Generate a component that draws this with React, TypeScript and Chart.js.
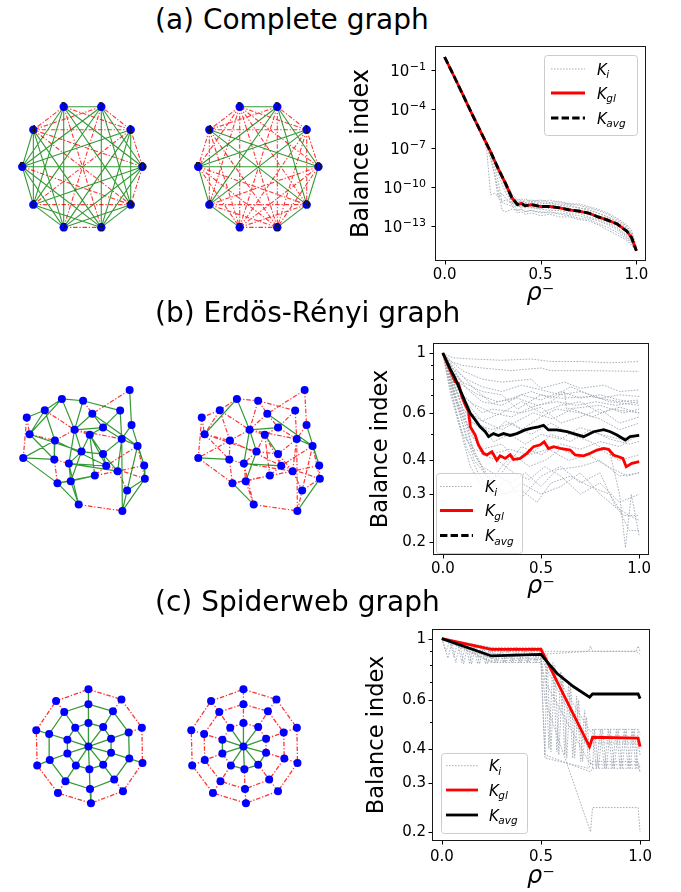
import React, { useEffect, useRef } from "react";
import { Chart, registerables } from "chart.js";
Chart.register(...registerables);

const FONT = "'DejaVu Sans', 'Liberation Sans', sans-serif";
Chart.defaults.font.family = FONT;

// ---------------- titles ----------------
const TITLES = ["(a) Complete graph", "(b) Erdös-Rényi graph", "(c) Spiderweb graph"];

// ---------------- network data ----------------
const COMPLETE_NODES = [
  [145.7, 166.7], [133.3, 127.7], [102.3, 103.3], [62.7, 103.3], [30.7, 127.7],
  [19, 166.7], [30.7, 206.7], [62.7, 230.7], [102.3, 230.7], [133.3, 206.7],
];
const COMPLETE_LABELS = ["0", "1", "2", "3", "4", "5", "6", "7", "8", "9"];
const COMPLETE_SIGNS_LEFT = "rggrggggr" + "rrrgrggg" + "grggrgg" + "rgggrg" + "ggggr" + "gggr" + "ggr" + "rg" + "g";
const COMPLETE_SIGNS_RIGHT = "rgrggrrrg" + "rrrggrrr" + "grggrrg" + "rrrrrr" + "rrrrg" + "grrr" + "grr" + "rr" + "g";

const ER_NODES = [
  [360, 20], [146, 48], [213, 54], [92, 84], [330, 85], [242, 95], [35, 107], [366, 131], [276, 139], [186, 146],
  [44, 160], [234, 162], [124, 180], [335, 175], [385, 197], [208, 215], [276, 223], [24, 235], [122, 240], [168, 253],
  [286, 260], [406, 259], [322, 277], [250, 291], [408, 301], [174, 309], [132, 315], [352, 338], [199, 383], [337, 403],
];
const ER_EDGES = [
  [0, 7], [0, 5], [1, 2], [1, 3], [1, 9], [1, 10], [2, 4], [2, 9], [2, 5], [3, 6],
  [3, 9], [3, 10], [3, 12], [4, 13], [4, 8], [5, 9], [5, 14], [5, 8], [6, 10], [6, 17],
  [7, 13], [7, 21], [8, 9], [8, 11], [8, 13], [9, 12], [9, 11], [9, 15], [9, 19], [9, 13],
  [10, 12], [10, 18], [10, 15], [11, 16], [11, 15], [11, 20], [11, 23], [12, 18], [12, 17], [12, 20],
  [13, 16], [13, 14], [13, 29], [13, 22], [14, 21], [14, 24], [14, 20], [15, 19], [15, 16], [15, 25],
  [16, 22], [16, 20], [17, 18], [17, 26], [18, 19], [18, 26], [19, 20], [19, 25], [19, 28], [19, 22],
  [20, 23], [20, 24], [21, 24], [21, 22], [22, 27], [22, 23], [23, 25], [23, 26], [25, 26], [25, 28],
  [26, 28], [27, 24], [28, 29], [29, 24], [29, 14],
];
const ER_SIGNS_LEFT = "grggggggrg" + "rgggggggrr" + "gggggrrggr" + "rggggggggg" + "gggggrrggg" + "ggggrrgggg" + "rrgrrrgggg" + "ggrgg";
const ER_SIGNS_RIGHT = "rrrrggrrrr" + "rrrrrrgrrr" + "rggrrrrggr" + "rrrgrrrrrr" + "rgrrgrrrrg" + "rrgrrrgrrr" + "rrrrrrrrrr" + "grrgr";

const SPIDER_NODES = [
  [190, 200],
  [190, 125], [237, 138], [262, 175], [262, 220], [237, 258], [193, 272], [150, 260], [123, 222], [123, 178], [148, 140],
  [190, 65], [268, 88], [318, 155], [320, 238], [272, 305], [195, 335], [117, 310], [67, 243], [65, 160], [113, 90],
  [190, 18], [295, 50], [360, 140], [362, 252], [300, 342], [198, 380], [93, 348], [27, 260], [24, 148], [87, 55],
];
const SPIDER_SIGNS_LEFT = "gggggggggg" + "gggggggggg" + "gggggggggg" + "gggggggggg" + "grrgrgrggr" + "rrrrrrrrrr";
const SPIDER_SIGNS_RIGHT = "gggggggggg" + "rrrgggrgrr" + "rrrrrrrrrr" + "rrrrrrrrrr" + "rrrrrrrrrr" + "rrrrrrrrrr";

// ---------------- balance-index data ----------------
const X_TICKS = [0, 0.5, 1];
const X_TICK_LABELS = ["0.0", "0.5", "1.0"];
const LEGEND_SUBS = ["i", "gl", "avg"];

// (a) complete graph (log10 values)
const A_Y_TICKS = [1e-1, 1e-4, 1e-7, 1e-10, 1e-13];
const A_Y_TICK_EXPONENTS = ["−1", "−4", "−7", "−10", "−13"];
const A_X = [0, 0.05, 0.1, 0.15, 0.2, 0.22, 0.24, 0.26, 0.28, 0.3, 0.32, 0.35, 0.38, 0.4, 0.42, 0.45, 0.5, 0.55, 0.6, 0.65, 0.7, 0.75, 0.8, 0.85, 0.9, 0.95, 0.975, 1];
const A_KGL_LOG = [0, -1.5, -3.05, -4.6, -6.1, -6.7, -7.3, -7.95, -8.6, -9.2, -9.8, -10.8, -11.35, -11.25, -11.45, -11.35, -11.5, -11.5, -11.6, -11.75, -11.85, -12.0, -12.3, -12.55, -12.85, -13.4, -13.9, -14.9];
const A_KAVG_LOG = [0, -1.5, -3.05, -4.6, -6.1, -6.7, -7.3, -7.95, -8.6, -9.2, -9.8, -10.8, -11.35, -11.25, -11.45, -11.35, -11.5, -11.5, -11.6, -11.75, -11.85, -12.0, -12.3, -12.55, -12.85, -13.4, -13.9, -14.9];
const A_KI_LOG = [
  [0, -1.5, -3.05, -4.6, -6.1, -7.2, -10.6, -10.5, -10.7, -10.5, -10.9, -11.2, -11.3, -11.1, -11.3, -11.2, -11.3, -11.2, -11.4, -11.5, -11.6, -11.8, -12.0, -12.3, -12.6, -13.1, -13.6, -14.9],
  [0, -1.5, -3.05, -4.6, -6.1, -6.9, -7.9, -8.9, -10.3, -11.8, -11.9, -11.7, -11.8, -11.7, -11.9, -11.8, -11.9, -12.0, -12.0, -12.1, -12.2, -12.4, -12.6, -12.9, -13.3, -13.9, -14.3, -14.9],
  [0, -1.5, -3.05, -4.55, -6.0, -6.6, -7.2, -7.8, -8.4, -9.0, -9.6, -10.5, -11.0, -10.9, -11.1, -11.0, -11.1, -11.0, -11.2, -11.3, -11.4, -11.6, -11.8, -12.1, -12.5, -13.0, -13.5, -14.6],
  [0, -1.5, -3.05, -4.6, -6.1, -6.8, -7.5, -8.2, -9.0, -9.8, -10.5, -11.1, -11.8, -11.7, -11.9, -11.8, -12.0, -11.9, -12.1, -12.2, -12.4, -12.5, -12.8, -13.1, -13.5, -14.0, -14.4, -14.9],
  [0, -1.5, -3.05, -4.6, -6.1, -6.7, -7.3, -8.0, -8.7, -9.4, -10.2, -11.0, -11.2, -11.5, -11.2, -11.6, -11.4, -11.7, -11.5, -11.9, -11.7, -12.1, -12.3, -12.7, -13.1, -13.7, -14.1, -14.9],
  [0, -1.5, -3.05, -4.6, -6.1, -6.7, -7.4, -8.4, -9.6, -11.2, -11.3, -11.5, -11.4, -11.6, -11.3, -11.5, -11.7, -11.4, -11.6, -11.6, -12.0, -11.9, -12.2, -12.4, -12.9, -13.3, -13.8, -14.9],
  [0, -1.5, -3.05, -4.6, -6.1, -6.7, -7.3, -7.9, -8.5, -9.1, -9.7, -10.7, -11.1, -11.0, -11.2, -11.1, -11.2, -11.3, -11.3, -11.4, -11.6, -11.7, -12.0, -12.3, -12.7, -13.2, -13.6, -14.8],
  [0, -1.5, -3.05, -4.6, -6.1, -6.7, -7.3, -7.95, -8.6, -9.3, -10.0, -11.0, -11.5, -11.5, -11.6, -11.6, -11.7, -11.8, -11.8, -12.0, -12.0, -12.3, -12.5, -12.8, -13.2, -13.8, -14.2, -14.9],
  [0, -1.5, -3.05, -4.6, -6.1, -6.75, -7.6, -9.0, -10.9, -11.1, -11.0, -11.3, -11.0, -11.2, -10.9, -11.1, -11.0, -11.2, -11.1, -11.3, -11.3, -11.5, -11.7, -12.0, -12.4, -12.9, -13.3, -14.7],
  [0, -1.5, -3.05, -4.6, -6.1, -6.7, -7.3, -7.95, -8.6, -9.2, -9.9, -11.4, -12.0, -11.9, -12.1, -12.0, -12.2, -12.1, -12.3, -12.3, -12.5, -12.6, -12.9, -13.3, -13.7, -14.1, -14.5, -14.9],
];

// (b), (c) y ticks
const BC_Y_TICKS = [0.2, 0.3, 0.4, 0.6, 1];
const BC_Y_TICK_LABELS = ["0.2", "0.3", "0.4", "0.6", "1"];
const BC_Y_MINOR = [0.5, 0.7, 0.8, 0.9];

// (b) Erdős–Rényi
const B_KGL_X = [0, 0.037, 0.063, 0.08, 0.097, 0.114, 0.131, 0.14, 0.165, 0.182, 0.207, 0.224, 0.25, 0.275, 0.292, 0.318, 0.343, 0.36, 0.394, 0.428, 0.462, 0.496, 0.516, 0.538, 0.564, 0.598, 0.649, 0.674, 0.717, 0.751, 0.785, 0.819, 0.844, 0.869, 0.895, 0.917, 0.934, 0.963, 1];
const B_KGL_Y = [1.0, 0.865, 0.783, 0.772, 0.689, 0.642, 0.607, 0.533, 0.497, 0.456, 0.425, 0.419, 0.431, 0.401, 0.416, 0.407, 0.42, 0.403, 0.407, 0.425, 0.45, 0.457, 0.469, 0.443, 0.45, 0.443, 0.437, 0.419, 0.416, 0.425, 0.437, 0.443, 0.44, 0.419, 0.413, 0.407, 0.379, 0.39, 0.396];
const B_KAVG_X = [0, 0.037, 0.063, 0.088, 0.114, 0.14, 0.165, 0.19, 0.216, 0.233, 0.258, 0.283, 0.309, 0.343, 0.377, 0.419, 0.453, 0.487, 0.513, 0.538, 0.58, 0.632, 0.666, 0.717, 0.768, 0.819, 0.853, 0.887, 0.929, 0.954, 1];
const B_KAVG_Y = [1.0, 0.875, 0.805, 0.73, 0.66, 0.598, 0.565, 0.533, 0.511, 0.49, 0.503, 0.495, 0.503, 0.495, 0.503, 0.519, 0.527, 0.533, 0.54, 0.519, 0.519, 0.511, 0.503, 0.49, 0.511, 0.52, 0.511, 0.497, 0.476, 0.49, 0.495];
const B_KI = [
  [[0, 1], [0.05, 0.96], [0.15, 0.95], [0.3, 0.94], [0.45, 0.95], [0.55, 0.93], [0.7, 0.93], [0.85, 0.92], [1, 0.93]],
  [[0, 1], [0.04, 0.93], [0.1, 0.9], [0.2, 0.88], [0.35, 0.86], [0.42, 0.87], [0.5, 0.88], [0.55, 0.86], [0.75, 0.86], [1, 0.855]],
  [[0, 1], [0.05, 0.85], [0.1, 0.78], [0.2, 0.72], [0.3, 0.7], [0.38, 0.62], [0.5, 0.7], [0.6, 0.68], [0.75, 0.69], [0.9, 0.66], [1, 0.67]],
  [[0, 1], [0.03, 0.9], [0.08, 0.72], [0.15, 0.65], [0.25, 0.6], [0.35, 0.58], [0.45, 0.63], [0.55, 0.66], [0.62, 0.72], [0.63, 0.62], [0.8, 0.64], [0.92, 0.6], [1, 0.62]],
  [[0, 1], [0.05, 0.8], [0.1, 0.62], [0.18, 0.55], [0.25, 0.5], [0.32, 0.56], [0.4, 0.52], [0.5, 0.58], [0.58, 0.62], [0.7, 0.6], [0.8, 0.57], [0.9, 0.52], [1, 0.55]],
  [[0, 1], [0.04, 0.82], [0.09, 0.66], [0.14, 0.5], [0.2, 0.44], [0.3, 0.46], [0.38, 0.4], [0.48, 0.44], [0.55, 0.5], [0.65, 0.47], [0.75, 0.52], [0.85, 0.48], [0.95, 0.46], [1, 0.47]],
  [[0, 1], [0.05, 0.75], [0.1, 0.58], [0.15, 0.45], [0.2, 0.38], [0.28, 0.35], [0.35, 0.33], [0.42, 0.36], [0.5, 0.32], [0.58, 0.37], [0.7, 0.38], [0.8, 0.4], [0.9, 0.35], [1, 0.36]],
  [[0, 1], [0.03, 0.88], [0.06, 0.7], [0.12, 0.55], [0.16, 0.42], [0.22, 0.36], [0.3, 0.3], [0.4, 0.31], [0.48, 0.28], [0.55, 0.33], [0.65, 0.35], [0.75, 0.32], [0.85, 0.3], [0.92, 0.25], [1, 0.25]],
  [[0, 1], [0.05, 0.78], [0.1, 0.63], [0.15, 0.55], [0.25, 0.52], [0.35, 0.55], [0.45, 0.5], [0.55, 0.55], [0.65, 0.5], [0.75, 0.47], [0.85, 0.43], [0.9, 0.3], [0.93, 0.19], [0.96, 0.3], [1, 0.21]],
  [[0, 1], [0.04, 0.85], [0.1, 0.7], [0.2, 0.6], [0.25, 0.62], [0.4, 0.6], [0.5, 0.63], [0.6, 0.55], [0.7, 0.58], [0.8, 0.62], [0.9, 0.55], [1, 0.58]],
  [[0, 1], [0.06, 0.72], [0.12, 0.48], [0.18, 0.4], [0.24, 0.33], [0.3, 0.38], [0.36, 0.42], [0.44, 0.38], [0.52, 0.4], [0.6, 0.44], [0.7, 0.41], [0.8, 0.44], [0.9, 0.4], [1, 0.42]],
  [[0, 1], [0.05, 0.88], [0.12, 0.8], [0.2, 0.75], [0.3, 0.72], [0.4, 0.76], [0.5, 0.73], [0.6, 0.7], [0.7, 0.72], [0.8, 0.68], [0.9, 0.7], [1, 0.69]],
  [[0, 1], [0.03, 0.8], [0.07, 0.6], [0.12, 0.45], [0.18, 0.36], [0.25, 0.3], [0.32, 0.34], [0.4, 0.29], [0.5, 0.35], [0.6, 0.38], [0.7, 0.33], [0.8, 0.36], [0.88, 0.27], [0.95, 0.25], [1, 0.24]],
  [[0, 1], [0.05, 0.83], [0.1, 0.68], [0.2, 0.56], [0.3, 0.6], [0.4, 0.66], [0.5, 0.6], [0.6, 0.64], [0.7, 0.66], [0.8, 0.6], [0.9, 0.63], [1, 0.6]],
  [[0, 1], [0.04, 0.7], [0.08, 0.55], [0.14, 0.38], [0.2, 0.32], [0.3, 0.36], [0.4, 0.45], [0.5, 0.42], [0.6, 0.46], [0.7, 0.44], [0.8, 0.47], [0.9, 0.45], [1, 0.5]],
  [[0, 1], [0.05, 0.9], [0.1, 0.82], [0.15, 0.75], [0.25, 0.65], [0.35, 0.68], [0.45, 0.72], [0.55, 0.68], [0.65, 0.75], [0.75, 0.7], [0.85, 0.66], [1, 0.64]],
  [[0, 1], [0.05, 0.92], [0.1, 0.86], [0.2, 0.8], [0.3, 0.78], [0.45, 0.8], [0.5, 0.74], [0.62, 0.78], [0.7, 0.74], [0.82, 0.76], [0.9, 0.72], [1, 0.73]],
  [[0, 1], [0.03, 0.82], [0.07, 0.66], [0.12, 0.58], [0.2, 0.52], [0.26, 0.47], [0.34, 0.5], [0.42, 0.46], [0.5, 0.5], [0.6, 0.48], [0.7, 0.53], [0.8, 0.5], [0.9, 0.48], [1, 0.5]],
  [[0, 1], [0.04, 0.78], [0.08, 0.62], [0.14, 0.52], [0.2, 0.42], [0.28, 0.4], [0.36, 0.36], [0.44, 0.34], [0.52, 0.38], [0.6, 0.35], [0.7, 0.3], [0.8, 0.33], [0.9, 0.28], [1, 0.3]],
  [[0, 1], [0.06, 0.86], [0.12, 0.74], [0.2, 0.66], [0.3, 0.64], [0.4, 0.7], [0.5, 0.67], [0.6, 0.72], [0.7, 0.68], [0.8, 0.7], [0.9, 0.67], [1, 0.65]],
  [[0, 1], [0.03, 0.86], [0.08, 0.7], [0.14, 0.6], [0.2, 0.56], [0.3, 0.52], [0.38, 0.56], [0.46, 0.6], [0.56, 0.57], [0.66, 0.62], [0.76, 0.58], [0.86, 0.62], [1, 0.6]],
  [[0, 1], [0.05, 0.72], [0.1, 0.55], [0.16, 0.4], [0.24, 0.34], [0.32, 0.3], [0.4, 0.33], [0.5, 0.3], [0.6, 0.32], [0.7, 0.36], [0.8, 0.3], [0.85, 0.28], [0.9, 0.26], [0.95, 0.22], [1, 0.22]],
  [[0, 1], [0.04, 0.9], [0.1, 0.76], [0.18, 0.7], [0.28, 0.66], [0.38, 0.68], [0.48, 0.64], [0.58, 0.66], [0.68, 0.64], [0.78, 0.66], [0.88, 0.64], [1, 0.66]],
  [[0, 1], [0.02, 0.84], [0.06, 0.64], [0.1, 0.5], [0.16, 0.44], [0.24, 0.42], [0.34, 0.44], [0.44, 0.42], [0.54, 0.44], [0.64, 0.4], [0.74, 0.42], [0.84, 0.38], [0.94, 0.35], [1, 0.36]],
];

// (c) spiderweb
const C_KGL_X = [0, 0.25, 0.5, 0.745, 0.76, 0.99, 1];
const C_KGL_Y = [1.0, 0.915, 0.915, 0.407, 0.44, 0.437, 0.407];
const C_KAVG_X = [0, 0.25, 0.5, 0.53, 0.58, 0.665, 0.745, 0.76, 0.99, 1];
const C_KAVG_Y = [1.0, 0.866, 0.878, 0.826, 0.75, 0.67, 0.614, 0.631, 0.631, 0.607];
const C_KI = [
  [[0, 1], [0.25, 0.93], [0.5, 0.93], [0.52, 0.9], [0.74, 0.9], [0.75, 0.94], [0.76, 0.9], [0.98, 0.9], [0.99, 0.94], [1, 0.9]],
  [[0, 1], [0.25, 0.82], [0.5, 0.82], [0.52, 0.37], [0.74, 0.34], [0.76, 0.36], [0.99, 0.36], [1, 0.34]],
  [[0, 1], [0.25, 0.88], [0.5, 0.88], [0.52, 0.6], [0.75, 0.2], [0.76, 0.245], [0.99, 0.245], [1, 0.2]],
  [[0, 1], [0.25, 0.9], [0.5, 0.9], [0.52, 0.86], [0.75, 0.46], [0.76, 0.47], [0.99, 0.47], [1, 0.45]],
  [[0, 1], [0.25, 0.85], [0.5, 0.85], [0.52, 0.7], [0.74, 0.36], [0.76, 0.35], [0.99, 0.35], [1, 0.33]],
  [[0, 1], [0.25, 0.87], [0.5, 0.87], [0.52, 0.8], [0.74, 0.4], [0.76, 0.42], [0.99, 0.42], [1, 0.38]],
  [[0, 1], [0.25, 0.91], [0.5, 0.91], [0.52, 0.88], [0.74, 0.9], [0.76, 0.9], [0.98, 0.9], [1, 0.88]],
  [[0, 1], [0.02, 0.9], [0.04, 0.98], [0.06, 0.86], [0.08, 0.97], [0.1, 0.82], [0.12, 0.96], [0.14, 0.81], [0.16, 0.95], [0.18, 0.81], [0.2, 0.94], [0.22, 0.81], [0.24, 0.93], [0.25, 0.82]],
  [[0.25, 0.93], [0.27, 0.82], [0.29, 0.93], [0.31, 0.82], [0.33, 0.93], [0.35, 0.82], [0.37, 0.93], [0.39, 0.82], [0.41, 0.93], [0.43, 0.82], [0.45, 0.93], [0.47, 0.82], [0.49, 0.93], [0.5, 0.82]],
  [[0.52, 0.88], [0.54, 0.4], [0.56, 0.82], [0.58, 0.39], [0.6, 0.76], [0.62, 0.38], [0.64, 0.7], [0.66, 0.37], [0.68, 0.62], [0.7, 0.36], [0.72, 0.55], [0.74, 0.35]],
  [[0.76, 0.47], [0.78, 0.34], [0.8, 0.47], [0.82, 0.34], [0.84, 0.47], [0.86, 0.34], [0.88, 0.47], [0.9, 0.34], [0.92, 0.47], [0.94, 0.34], [0.96, 0.47], [0.98, 0.34], [0.99, 0.47]],
  [[0, 1], [0.25, 0.83], [0.5, 0.84], [0.52, 0.38], [0.75, 0.33], [0.76, 0.34], [0.99, 0.34], [1, 0.33]],
  [[0, 1], [0.01, 0.95], [0.03, 0.85], [0.05, 0.97], [0.07, 0.82], [0.09, 0.96], [0.11, 0.81], [0.13, 0.95], [0.15, 0.81], [0.17, 0.94], [0.19, 0.81], [0.21, 0.94], [0.23, 0.81], [0.25, 0.92]],
  [[0.25, 0.82], [0.26, 0.93], [0.28, 0.82], [0.3, 0.93], [0.32, 0.82], [0.34, 0.93], [0.36, 0.82], [0.38, 0.93], [0.4, 0.82], [0.42, 0.93], [0.44, 0.82], [0.46, 0.93], [0.48, 0.82], [0.5, 0.93]],
  [[0.52, 0.38], [0.53, 0.87], [0.55, 0.39], [0.57, 0.8], [0.59, 0.38], [0.61, 0.74], [0.63, 0.37], [0.65, 0.68], [0.67, 0.37], [0.69, 0.6], [0.71, 0.36], [0.73, 0.52], [0.75, 0.35]],
  [[0.76, 0.34], [0.77, 0.47], [0.79, 0.34], [0.81, 0.47], [0.83, 0.34], [0.85, 0.47], [0.87, 0.34], [0.89, 0.47], [0.91, 0.34], [0.93, 0.47], [0.95, 0.34], [0.97, 0.47], [0.99, 0.34]],
];

// ---------------- helpers ----------------
const GRAY = "rgba(160,167,178,0.9)";

function completeEdges(n: number) {
  const e: number[][] = [];
  for (let i = 0; i < n; i++) for (let j = i + 1; j < n; j++) e.push([i, j]);
  return e;
}
function spiderEdges() {
  const e: number[][] = [];
  for (let k = 0; k < 10; k++) e.push([0, 1 + k]);
  for (let k = 0; k < 10; k++) e.push([1 + k, 1 + ((k + 1) % 10)]);
  for (let k = 0; k < 10; k++) e.push([1 + k, 11 + k]);
  for (let k = 0; k < 10; k++) e.push([11 + k, 11 + ((k + 1) % 10)]);
  for (let k = 0; k < 10; k++) e.push([11 + k, 21 + k]);
  for (let k = 0; k < 10; k++) e.push([21 + k, 21 + ((k + 1) % 10)]);
  return e;
}

function NetworkPanel(props: any) {
  const { left, top, width, height, xr, yr, nodes, edges, signs, labels, nodeRadius, lw } = props;
  const ref = useRef<HTMLCanvasElement>(null);
  useEffect(() => {
    const green: any[] = [];
    const red: any[] = [];
    edges.forEach((ed: number[], i: number) => {
      const arr = signs[i] === "g" ? green : red;
      const a = nodes[ed[0]], b = nodes[ed[1]];
      arr.push({ x: a[0], y: a[1] }, { x: b[0], y: b[1] }, { x: null, y: null });
    });
    const labelPlugin = {
      id: "nodeLabels",
      afterDatasetsDraw(chart: any) {
        if (!labels) return;
        const meta = chart.getDatasetMeta(0);
        const ctx = chart.ctx;
        ctx.save();
        ctx.font = `10px ${FONT}`;
        ctx.fillStyle = "#111";
        ctx.textAlign = "center";
        ctx.textBaseline = "middle";
        meta.data.forEach((el: any, i: number) => ctx.fillText(labels[i], el.x, el.y + 0.5));
        ctx.restore();
      },
    };
    const chart = new Chart(ref.current!, {
      type: "scatter",
      data: {
        datasets: [
          { data: nodes.map((p: number[]) => ({ x: p[0], y: p[1] })), pointRadius: nodeRadius, pointBackgroundColor: "#0000ff", pointBorderWidth: 0, showLine: false } as any,
          { data: green, showLine: true, borderColor: "rgba(0,128,0,0.8)", borderWidth: lw, pointRadius: 0, spanGaps: false },
          { data: red, showLine: true, borderColor: "rgba(255,0,0,0.8)", borderWidth: lw, borderDash: [4.5, 1.8, 1.3, 1.8], pointRadius: 0, spanGaps: false },
        ],
      },
      options: {
        animation: false,
        responsive: false,
        events: [],
        layout: { padding: 0 },
        plugins: { legend: { display: false }, tooltip: { enabled: false } },
        scales: {
          x: { type: "linear", display: false, min: xr[0], max: xr[1] },
          y: { type: "linear", display: false, min: yr[0], max: yr[1], reverse: true },
        },
      } as any,
      plugins: [labelPlugin],
    });
    return () => chart.destroy();
  }, []);
  return <canvas ref={ref} width={width} height={height} style={{ position: "absolute", left, top, width, height }} />;
}

function LinePanel(props: any) {
  const p = props.p;
  const ref = useRef<HTMLCanvasElement>(null);
  useEffect(() => {
    const cv = p.canvas, area = p.area;
    const yW = area.left - cv.left;
    const xH = cv.top + cv.height - area.bottom;
    const padT = area.top - cv.top;
    const padR = cv.left + cv.width - area.right;
    const lg = p.legend;
    const deco = {
      id: "frameLegend",
      afterDraw(chart: any) {
        const { ctx, chartArea: a, scales } = chart;
        ctx.save();
        ctx.strokeStyle = "#000";
        ctx.lineWidth = 1;
        ctx.beginPath();
        p.yTicks.forEach((v: number) => {
          const y = Math.round(scales.y.getPixelForValue(v)) + 0.5;
          ctx.moveTo(a.left - 3.5, y); ctx.lineTo(a.left, y);
        });
        (p.yMinor || []).forEach((v: number) => {
          const y = Math.round(scales.y.getPixelForValue(v)) + 0.5;
          ctx.moveTo(a.left - 2, y); ctx.lineTo(a.left, y);
        });
        X_TICKS.forEach((v) => {
          const x = Math.round(scales.x.getPixelForValue(v)) + 0.5;
          ctx.moveTo(x, a.bottom); ctx.lineTo(x, a.bottom + 3.5);
        });
        ctx.stroke();
        ctx.strokeStyle = "#1a1a1a";
        ctx.strokeRect(a.left + 0.5, a.top + 0.5, a.right - a.left - 1, a.bottom - a.top - 1);
        // power-of-ten tick labels with superscripts
        if (p.yExponents) {
          ctx.fillStyle = "#000";
          ctx.textBaseline = "alphabetic";
          p.yTicks.forEach((v: number, i: number) => {
            const y = scales.y.getPixelForValue(v);
            const xEnd = a.left - p.yTickPad;
            ctx.font = `11px ${FONT}`;
            const supW = ctx.measureText(p.yExponents[i]).width;
            ctx.textAlign = "left";
            ctx.fillText(p.yExponents[i], xEnd - supW, y - 0.5);
            ctx.font = `15px ${FONT}`;
            ctx.textAlign = "right";
            ctx.fillText("10", xEnd - supW - 0.5, y + 5.5);
          });
        }
        // legend
        const bx = a.left + lg.x, by = a.top + lg.y;
        ctx.beginPath();
        ctx.roundRect(bx + 0.5, by + 0.5, lg.w, lg.h, 3);
        ctx.fillStyle = "rgba(255,255,255,0.8)";
        ctx.fill();
        ctx.strokeStyle = "#cccccc";
        ctx.lineWidth = 1;
        ctx.stroke();
        const styles = [
          { c: GRAY, w: 1, d: [1.6, 1.4] },
          { c: "#ff0000", w: 2.8, d: [] },
          { c: "#000000", w: 2.8, d: lg.avgDashed ? [7.4, 3.2] : [] },
        ];
        lg.rows.forEach((ry: number, i: number) => {
          const y = a.top + ry;
          const s = styles[i];
          ctx.beginPath();
          ctx.setLineDash(s.d);
          ctx.strokeStyle = s.c;
          ctx.lineWidth = s.w;
          ctx.moveTo(a.left + lg.hx0, y);
          ctx.lineTo(a.left + lg.hx1, y);
          ctx.stroke();
          ctx.setLineDash([]);
          ctx.fillStyle = "#000";
          ctx.textBaseline = "alphabetic";
          ctx.textAlign = "left";
          ctx.font = `italic 15px ${FONT}`;
          const tx = a.left + lg.tx;
          ctx.fillText("K", tx, y + 5.5);
          const kw = ctx.measureText("K").width;
          ctx.font = `italic 10.5px ${FONT}`;
          ctx.fillText(LEGEND_SUBS[i], tx + kw - 0.5, y + 9);
        });
        ctx.restore();
      },
    };
    const findLabel = (v: number) => {
      if (!p.yTickLabels) return "";
      for (let i = 0; i < p.yTicks.length; i++) {
        if (Math.abs(Math.log10(v) - Math.log10(p.yTicks[i])) < 1e-6) return p.yTickLabels[i];
      }
      return "";
    };
    const chart = new Chart(ref.current!, {
      type: "scatter",
      data: { datasets: p.datasets },
      options: {
        animation: false,
        responsive: false,
        events: [],
        layout: { padding: { left: 0, top: padT, right: padR, bottom: 0 } },
        plugins: { legend: { display: false }, tooltip: { enabled: false } },
        elements: { point: { radius: 0 }, line: { tension: 0 } },
        scales: {
          x: {
            type: "linear",
            bounds: "data",
            min: -0.05,
            max: 1.05,
            afterBuildTicks: (s: any) => { s.ticks = X_TICKS.map((v) => ({ value: v })); },
            afterFit: (s: any) => { s.height = xH; s.paddingLeft = 0; s.paddingRight = 0; },
            ticks: {
              autoSkip: false, maxRotation: 0, padding: p.xTickPad, color: "#000",
              font: { family: FONT, size: 15 },
              callback: (v: any) => X_TICK_LABELS[X_TICKS.indexOf(v)] ?? "",
            },
            grid: { display: false, drawTicks: false },
            border: { display: false },
            title: {
              display: true, text: "ρ⁻", color: "#000",
              font: { family: FONT, size: 24, style: "italic", lineHeight: 1.2 },
              padding: { top: 0, bottom: p.xTitlePad },
            },
          },
          y: {
            type: "logarithmic",
            bounds: "data",
            min: p.yMin,
            max: p.yMax,
            afterBuildTicks: (s: any) => { s.ticks = p.yTicks.map((v: number) => ({ value: v })); },
            afterFit: (s: any) => { s.width = yW; s.paddingTop = 0; s.paddingBottom = 0; },
            ticks: {
              display: !p.yExponents,
              autoSkip: false, padding: p.yTickPad, color: "#000",
              font: { family: FONT, size: 15 },
              callback: (v: any) => findLabel(v),
            },
            grid: { display: false, drawTicks: false },
            border: { display: false },
            title: {
              display: true, text: "Balance index", color: "#000",
              font: { family: FONT, size: p.yTitleSize, lineHeight: 1.2 },
              padding: { top: p.yTitlePad, bottom: 0 },
            },
          },
        },
      } as any,
      plugins: [deco],
    });
    return () => chart.destroy();
  }, []);
  const cv = p.canvas;
  return <canvas ref={ref} width={cv.width} height={cv.height} style={{ position: "absolute", left: cv.left, top: cv.top, width: cv.width, height: cv.height }} />;
}

function xyData(xs: number[], ys: number[]) {
  return xs.map((x, i) => ({ x, y: ys[i] }));
}
function pairData(pairs: number[][]) {
  return pairs.map((q) => ({ x: q[0], y: q[1] }));
}
function grayDs(data: any[]) {
  return { data, showLine: true, borderColor: GRAY, borderWidth: 1, borderDash: [1.6, 1.4], pointRadius: 0 };
}

export default function App() {
  const panelA = {
    canvas: { left: 340, top: 36, width: 341, height: 274 },
    area: { left: 435, right: 646, top: 46, bottom: 261 },
    yMin: Math.pow(10, -15.69), yMax: Math.pow(10, 0.846),
    yTicks: A_Y_TICKS, yTickLabels: null, yExponents: A_Y_TICK_EXPONENTS, yMinor: [],
    yTickPad: 9, xTickPad: 5.5, xTitlePad: 1.6, yTitleSize: 24, yTitlePad: 7.3,
    legend: { x: 109, y: 9, w: 93, h: 80, hx0: 116, hx1: 150, tx: 162, rows: [23, 47, 72], avgDashed: true },
    datasets: [
      { data: A_X.map((x, i) => ({ x, y: Math.pow(10, A_KAVG_LOG[i]) })), showLine: true, borderColor: "#000", borderWidth: 2.8, borderDash: [7.4, 3.2], pointRadius: 0 },
      { data: A_X.map((x, i) => ({ x, y: Math.pow(10, A_KGL_LOG[i]) })), showLine: true, borderColor: "#ff0000", borderWidth: 2.8, pointRadius: 0 },
      ...A_KI_LOG.map((arr) => grayDs(A_X.map((x, i) => ({ x, y: Math.pow(10, arr[i]) })))),
    ],
  };
  const panelB = {
    canvas: { left: 340, top: 333, width: 341, height: 271 },
    area: { left: 433, right: 649, top: 343, bottom: 555 },
    yMin: 0.1786, yMax: 1.089,
    yTicks: BC_Y_TICKS, yTickLabels: BC_Y_TICK_LABELS, yExponents: null, yMinor: BC_Y_MINOR,
    yTickPad: 7, xTickPad: 5, xTitlePad: 2.6, yTitleSize: 22.5, yTitlePad: 27.2,
    legend: { x: 3, y: 130, w: 86, h: 80, hx0: 7, hx1: 40, tx: 52, rows: [143.5, 167.5, 192.5], avgDashed: true },
    datasets: [
      { data: xyData(B_KAVG_X, B_KAVG_Y), showLine: true, borderColor: "#000", borderWidth: 2.8, pointRadius: 0 },
      { data: xyData(B_KGL_X, B_KGL_Y), showLine: true, borderColor: "#ff0000", borderWidth: 2.8, pointRadius: 0 },
      ...B_KI.map((s) => grayDs(pairData(s))),
    ],
  };
  const panelC = {
    canvas: { left: 340, top: 619, width: 341, height: 273 },
    area: { left: 432, right: 650, top: 629, bottom: 841 },
    yMin: 0.1855, yMax: 1.084,
    yTicks: BC_Y_TICKS, yTickLabels: BC_Y_TICK_LABELS, yExponents: null, yMinor: BC_Y_MINOR,
    yTickPad: 6, xTickPad: 7, xTitlePad: 0.6, yTitleSize: 22.5, yTitlePad: 23.5,
    legend: { x: 9, y: 124, w: 86, h: 80, hx0: 14, hx1: 46, tx: 57, rows: [136.7, 161, 186], avgDashed: false },
    datasets: [
      { data: xyData(C_KAVG_X, C_KAVG_Y), showLine: true, borderColor: "#000", borderWidth: 2.8, pointRadius: 0 },
      { data: xyData(C_KGL_X, C_KGL_Y), showLine: true, borderColor: "#ff0000", borderWidth: 2.8, pointRadius: 0 },
      ...C_KI.map((s) => grayDs(pairData(s))),
    ],
  };

  const cEdges = completeEdges(COMPLETE_NODES.length);
  const sEdges = spiderEdges();
  const titleTops = [6.3, 299.3, 588];

  return (
    <div style={{ position: "fixed", left: 0, top: 0, width: 681, height: 892, background: "#fff", overflow: "hidden" }}>
      <NetworkPanel left={0} top={88} width={165} height={160} xr={[0, 165]} yr={[88, 248]} nodes={COMPLETE_NODES} edges={cEdges} signs={COMPLETE_SIGNS_LEFT} labels={COMPLETE_LABELS} nodeRadius={4.2} lw={1.1} />
      <NetworkPanel left={176} top={88} width={165} height={160} xr={[0, 165]} yr={[88, 248]} nodes={COMPLETE_NODES} edges={cEdges} signs={COMPLETE_SIGNS_RIGHT} labels={COMPLETE_LABELS} nodeRadius={4.2} lw={1.1} />
      <NetworkPanel left={5} top={375} width={160} height={150} xr={[-21, 459]} yr={[-15, 435]} nodes={ER_NODES} edges={ER_EDGES} signs={ER_SIGNS_LEFT} labels={null} nodeRadius={4} lw={1.2} />
      <NetworkPanel left={180} top={375} width={160} height={150} xr={[-21, 459]} yr={[-15, 435]} nodes={ER_NODES} edges={ER_EDGES} signs={ER_SIGNS_RIGHT} labels={null} nodeRadius={4} lw={1.2} />
      <NetworkPanel left={20} top={675} width={140} height={140} xr={[-15, 405]} yr={[-15, 405]} nodes={SPIDER_NODES} edges={sEdges} signs={SPIDER_SIGNS_LEFT} labels={null} nodeRadius={4} lw={1.3} />
      <NetworkPanel left={175} top={675} width={140} height={140} xr={[-15, 405]} yr={[-15, 405]} nodes={SPIDER_NODES} edges={sEdges} signs={SPIDER_SIGNS_RIGHT} labels={null} nodeRadius={4} lw={1.3} />
      <LinePanel p={panelA} />
      <LinePanel p={panelB} />
      <LinePanel p={panelC} />
      {TITLES.map((t, i) => (
        <div key={t} style={{ position: "absolute", left: 155, top: titleTops[i], fontFamily: FONT, fontSize: 28, lineHeight: "28px", whiteSpace: "nowrap", color: "#000", zIndex: 2 }}>{t}</div>
      ))}
    </div>
  );
}
